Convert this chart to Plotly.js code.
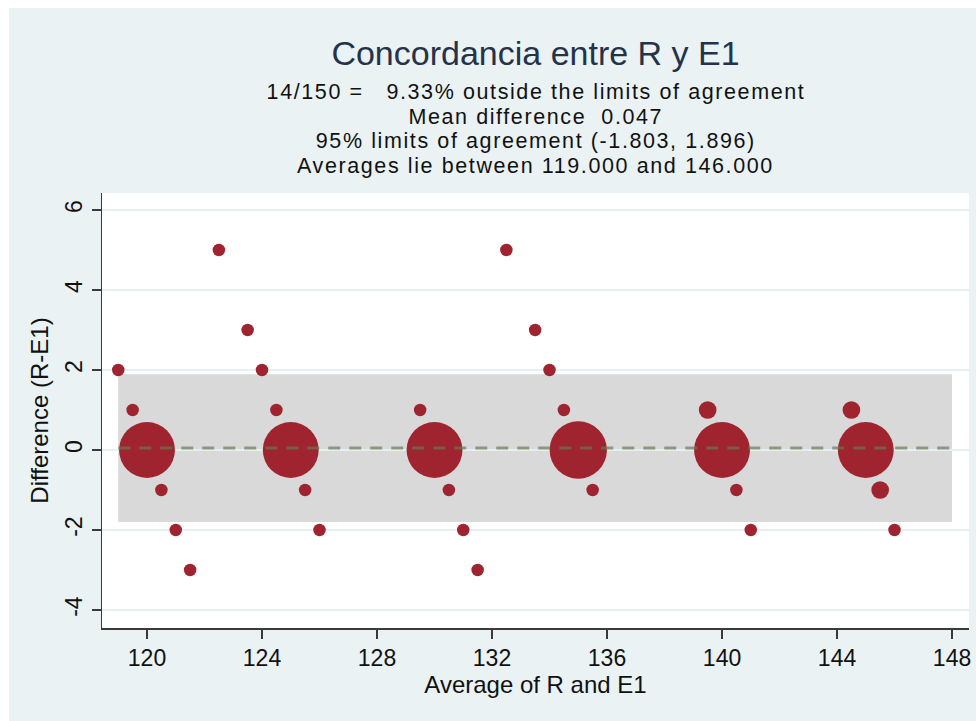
<!DOCTYPE html>
<html>
<head>
<meta charset="utf-8">
<script src="https://cdn.plot.ly/plotly-3.0.1.min.js"></script>
<style>
  html, body { margin: 0; padding: 0; background: #ffffff; }
  #plot { position: absolute; left: 9px; top: 8px; width: 967px; height: 713px; }
  #plot .annotation-text { letter-spacing: 1.6px; }
</style>
</head>
<body>
<div id="plot"></div>
<script>
// Data (average of R and E1, difference R-E1, frequency of each pair)
const avgVals  = [119, 119.5, 120, 120.5, 121, 121.5, 122.5, 123.5, 124, 124.5, 125, 125.5, 126,
                  129.5, 130, 130.5, 131, 131.5, 132.5, 133.5, 134, 134.5, 135, 135.5,
                  139.5, 140, 140.5, 141,
                  144.5, 145, 145.5, 146];
const diffVals = [2, 1, 0, -1, -2, -3, 5, 3, 2, 1, 0, -1, -2,
                  1, 0, -1, -2, -3, 5, 3, 2, 1, 0, -1,
                  1, 0, -1, -2,
                  1, 0, -1, -2];
const freqVals = [1, 1, 20, 1, 1, 1, 1, 1, 1, 1, 20, 1, 1,
                  1, 20, 1, 1, 1, 1, 1, 1, 1, 21, 1,
                  2, 20, 1, 1,
                  2, 20, 2, 1];

const meanDiff = 0.047;
const lowerLimit = -1.803;
const upperLimit = 1.896;
const avgMin = 119;
const avgMax = 148;

const xTicks = [120, 124, 128, 132, 136, 140, 144, 148];
const yTicks = [-4, -2, 0, 2, 4, 6];

const titleText = 'Concordancia entre R y E1';
const subtitleLines = [
  '14/150 =   9.33% outside the limits of agreement',
  'Mean difference  0.047',
  '95% limits of agreement (-1.803, 1.896)',
  'Averages lie between 119.000 and 146.000'
];

const FONT = 'Liberation Sans, Arial, Helvetica, sans-serif';

const traces = [
  {
    type: 'scatter', mode: 'markers',
    x: avgVals, y: diffVals,
    marker: {
      size: freqVals, sizemode: 'area', sizeref: 0.0128,
      color: '#9f2430', opacity: 1, line: { width: 0 }
    },
    hoverinfo: 'x+y', showlegend: false
  },
  {
    type: 'scatter', mode: 'lines',
    x: [avgMin, avgMax], y: [meanDiff, meanDiff],
    line: { color: 'rgba(100,122,80,0.68)', width: 3, dash: '12px,9px' },
    hoverinfo: 'skip', showlegend: false
  }
];

// page-y positions (div coords) converted to paper coords (plot bottom 620 in div, height 435)
const subY = [84, 108.7, 133.4, 158.1];
const annotations = subtitleLines.map((t, i) => ({
  text: t, xref: 'paper', yref: 'paper', x: 0.5, y: (620 - subY[i]) / 435,
  xanchor: 'center', yanchor: 'middle', showarrow: false, borderpad: 0,
  font: { family: FONT, size: 21.5, color: '#111111' }
}));

const layout = {
  width: 967, height: 713,
  paper_bgcolor: '#eaf2f3', plot_bgcolor: '#ffffff',
  margin: { l: 93, r: 7, t: 185, b: 93 },
  title: {
    text: titleText, xref: 'paper', x: 0.5, xanchor: 'center',
    yref: 'container', y: 1 - 45 / 713, yanchor: 'middle',
    font: { family: FONT, size: 34, color: '#25324b' }
  },
  annotations: annotations,
  xaxis: {
    range: [118.435, 148.59], tickvals: xTicks, ticktext: xTicks.map(String),
    showgrid: false, zeroline: false,
    showline: true, linecolor: '#3a3a3a', linewidth: 1.5,
    ticks: 'outside', ticklen: 9, tickwidth: 1.5, tickcolor: '#3a3a3a',
    tickfont: { family: FONT, size: 23, color: '#111111' },
    title: { text: 'Average of R and E1', font: { family: FONT, size: 24, color: '#111111' }, standoff: 4 },
    automargin: false, fixedrange: true
  },
  yaxis: {
    range: [-4.45, 6.425], tickvals: yTicks, ticktext: yTicks.map(String),
    tickangle: -90,
    showgrid: true, gridcolor: '#e8eff1', gridwidth: 2, zeroline: false,
    showline: true, linecolor: '#3a3a3a', linewidth: 1.5,
    ticks: 'outside', ticklen: 9, tickwidth: 1.5, tickcolor: '#3a3a3a',
    tickfont: { family: FONT, size: 23, color: '#111111' },
    title: { text: 'Difference (R-E1)', font: { family: FONT, size: 24, color: '#111111' }, standoff: 6 },
    automargin: false, fixedrange: true
  },
  shapes: [
    {
      type: 'rect', xref: 'x', yref: 'y', layer: 'below',
      x0: avgMin, x1: avgMax, y0: lowerLimit, y1: upperLimit,
      fillcolor: '#d9d9d9', line: { width: 0 }
    }
  ]
};

Plotly.newPlot('plot', traces, layout, { displayModeBar: false, staticPlot: true });
</script>
</body>
</html>
